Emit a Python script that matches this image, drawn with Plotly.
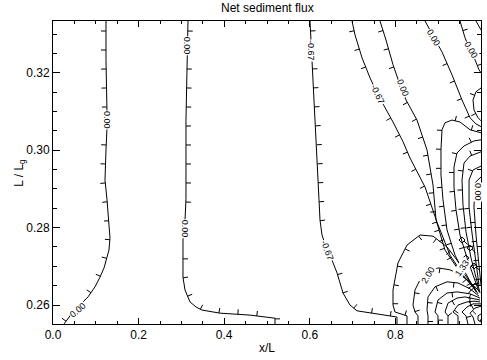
import math
import plotly.graph_objects as go

# ---------------- data ----------------
title = "Net sediment flux"
x_ticks = [0.0, 0.2, 0.4, 0.6, 0.8, 1.0]
y_ticks = [0.26, 0.28, 0.30, 0.32]
x_range = [0.0, 1.0]
y_range = [0.2551, 0.3334]

# contour lines: (x list, y list, downhill-tick side)
line_A_x = [0.1238,0.1238,0.1262,0.1262,0.1238,0.1215,0.1262,0.1308,0.1332,0.1308,0.1262,0.1192,0.1098,0.0981,0.0818,0.0631,0.0444,0.0257]
line_A_y = [0.3334,0.3234,0.3097,0.3058,0.3001,0.2923,0.2872,0.2820,0.2773,0.2742,0.2724,0.2696,0.2672,0.2647,0.2621,0.2600,0.2579,0.2551]
line_B_x = [0.3154,0.3131,0.3107,0.3107,0.3107,0.3084,0.3037,0.3037,0.3037,0.3084,0.3201,0.3341,0.3481,0.3902,0.4603,0.5187,0.5187]
line_B_y = [0.3334,0.3234,0.3078,0.2923,0.2872,0.2820,0.2768,0.2716,0.2672,0.2639,0.2608,0.2595,0.2587,0.2579,0.2574,0.2566,0.2551]
line_C_x = [0.6005,0.6028,0.6075,0.6121,0.6168,0.6192,0.6192,0.6215,0.6238,0.6285,0.6402,0.6519,0.6636,0.6776,0.6939,0.7103,0.8037,0.8037]
line_C_y = [0.3334,0.3285,0.3177,0.3091,0.3006,0.2944,0.2923,0.2872,0.2820,0.2781,0.2742,0.2716,0.2683,0.2631,0.2600,0.2585,0.2569,0.2551]
line_D_x = [0.6986,0.7056,0.7220,0.7407,0.7593,0.7944,0.8178,0.8341,0.8692,0.8972,0.9276,0.9626,0.9930]
line_D_y = [0.3334,0.3298,0.3239,0.3187,0.3143,0.3073,0.3022,0.2980,0.2905,0.2814,0.2729,0.2670,0.2639]
line_E_x = [0.7640,0.7780,0.7944,0.8107,0.8248,0.8505,0.8738,0.8879,0.8949,0.9159,0.9509,0.9907]
line_E_y = [0.3334,0.3285,0.3221,0.3169,0.3130,0.3078,0.3001,0.2910,0.2820,0.2742,0.2685,0.2634]
line_F_x = [0.8692,0.8902,0.9089,0.9322,0.9556,0.9743,0.9883,1.0000]
line_F_y = [0.3334,0.3291,0.3254,0.3195,0.3130,0.3084,0.3068,0.3061]
line_G_x = [0.9509,0.9626,0.9743,0.9860,0.9953,1.0000]
line_G_y = [0.3334,0.3291,0.3259,0.3234,0.3208,0.3200]
line_H_x = [0.9883,1.0000]
line_H_y = [0.3334,0.3311]
line_S_x = [1.0000,0.9883,0.9813,0.9836,0.9930,1.0000]
line_S_y = [0.3161,0.3151,0.3130,0.3104,0.3084,0.3076]
line_U1_x = [1.0000,0.9743,0.9509,0.9322,0.9159,0.9089,0.9065,0.9065,0.9112,0.9206,0.9393,0.9626,0.9883]
line_U1_y = [0.3045,0.3053,0.3073,0.3078,0.3071,0.3053,0.3001,0.2936,0.2872,0.2794,0.2729,0.2678,0.2639]
line_U2_x = [1.0000,0.9836,0.9603,0.9439,0.9369,0.9369,0.9416,0.9509,0.9673,0.9836,0.9953]
line_U2_y = [0.3027,0.3024,0.3011,0.2993,0.2957,0.2905,0.2846,0.2781,0.2722,0.2670,0.2634]
line_U3_x = [1.0000,0.9743,0.9603,0.9556,0.9579,0.9650,0.9766,0.9907,0.9977]
line_U3_y = [0.2996,0.2985,0.2967,0.2923,0.2859,0.2789,0.2722,0.2660,0.2631]
line_U4_x = [1.0000,0.9813,0.9720,0.9720,0.9790,0.9883,0.9953]
line_U4_y = [0.2959,0.2949,0.2923,0.2853,0.2786,0.2716,0.2652]
line_U5_x = [1.0000,0.9860,0.9836,0.9883,0.9953,1.0000]
line_U5_y = [0.2931,0.2916,0.2853,0.2781,0.2703,0.2652]
line_B1_x = [0.9883,0.9626,0.9439,0.9206,0.8879,0.8575,0.8271,0.8061,0.7944,0.7944,0.7991,0.8271,0.8271]
line_B1_y = [0.2634,0.2685,0.2716,0.2750,0.2778,0.2781,0.2755,0.2709,0.2639,0.2600,0.2582,0.2572,0.2551]
line_B2_x = [0.9930,0.9743,0.9509,0.9276,0.8995,0.8762,0.8575,0.8458,0.8411,0.8458,0.8528,0.8528]
line_B2_y = [0.2629,0.2660,0.2678,0.2691,0.2696,0.2683,0.2665,0.2639,0.2600,0.2582,0.2572,0.2551]
line_B3_x = [0.9953,0.9743,0.9463,0.9206,0.8925,0.8762,0.8738,0.8762,0.8762]
line_B3_y = [0.2623,0.2642,0.2657,0.2660,0.2647,0.2621,0.2587,0.2572,0.2551]
line_B4_x = [0.9977,0.9743,0.9439,0.9206,0.8995,0.8925,0.8995,0.8995]
line_B4_y = [0.2618,0.2629,0.2634,0.2631,0.2613,0.2582,0.2572,0.2551]
line_B5_x = [0.9977,0.9790,0.9626,0.9439,0.9229,0.9159,0.9229,0.9229]
line_B5_y = [0.2613,0.2618,0.2621,0.2618,0.2605,0.2582,0.2572,0.2551]
line_B6_x = [0.9977,0.9836,0.9673,0.9463,0.9346,0.9463,0.9463]
line_B6_y = [0.2608,0.2610,0.2608,0.2600,0.2582,0.2572,0.2551]
line_B7_x = [1.0000,0.9813,0.9673,0.9556,0.9650,0.9696]
line_B7_y = [0.2603,0.2603,0.2595,0.2582,0.2572,0.2551]
line_B8_x = [1.0000,0.9860,0.9743,0.9813,0.9860]
line_B8_y = [0.2597,0.2592,0.2579,0.2569,0.2551]
line_B9_x = [1.0000,0.9930,0.9930,1.0000]
line_B9_y = [0.2577,0.2572,0.2561,0.2556]
# small closed contours in the noisy area near x/L = 1
loop_1_x = [0.9486,0.9556,0.9626,0.9556,0.9486]
loop_1_y = [0.2768,0.2776,0.2768,0.2760,0.2768]
loop_2_x = [0.9673,0.9743,0.9813,0.9743,0.9673]
loop_2_y = [0.2747,0.2755,0.2747,0.2740,0.2747]
loop_3_x = [0.9579,0.9650,0.9720,0.9650,0.9579]
loop_3_y = [0.2722,0.2729,0.2722,0.2714,0.2722]
loop_4_x = [0.9766,0.9836,0.9907,0.9836,0.9766]
loop_4_y = [0.2701,0.2709,0.2701,0.2693,0.2701]

contour_lines = [
    (line_A_x, line_A_y, 1), (line_B_x, line_B_y, -1), (line_C_x, line_C_y, -1),
    (line_D_x, line_D_y, 1), (line_E_x, line_E_y, 1), (line_F_x, line_F_y, 1),
    (line_G_x, line_G_y, -1), (line_H_x, line_H_y, -1), (line_S_x, line_S_y, 1),
    (line_U1_x, line_U1_y, 1), (line_U2_x, line_U2_y, 1), (line_U3_x, line_U3_y, 1),
    (line_U4_x, line_U4_y, 1), (line_U5_x, line_U5_y, 1),
    (line_B1_x, line_B1_y, -1), (line_B2_x, line_B2_y, -1), (line_B3_x, line_B3_y, -1),
    (line_B4_x, line_B4_y, -1), (line_B5_x, line_B5_y, -1), (line_B6_x, line_B6_y, -1),
    (line_B7_x, line_B7_y, -1), (line_B8_x, line_B8_y, -1), (line_B9_x, line_B9_y, -1),
    (loop_1_x, loop_1_y, -1), (loop_2_x, loop_2_y, -1), (loop_3_x, loop_3_y, -1),
    (loop_4_x, loop_4_y, -1),
]

# contour labels: text, x, y, angle
label_text = ["0.00", "0.00", "0.00", "0.00", "-0.67", "-0.67", "-0.67", "0.00", "0.00", "0.00", "2.00", "1.33", "0.00"]
label_x = [0.1262, 0.0584, 0.3131, 0.3084, 0.6028, 0.6402, 0.7593, 0.8178, 0.8902, 0.9766, 0.8762, 0.9556, 0.9930]
label_y = [0.3078, 0.2587, 0.3270, 0.2797, 0.3259, 0.2742, 0.3143, 0.3161, 0.3291, 0.3259, 0.2678, 0.2696, 0.2892]
label_angle = [90, -40, 90, 90, 90, 70, 65, 68, 60, 60, -60, -55, 90]

# ---------------- layout geometry ----------------
W, H = 487, 360
ML, MR, MT, MB = 53, 6, 21, 36
PW, PH = W - ML - MR, H - MT - MB


def to_px(x, y):
    return (ML + (x - x_range[0]) / (x_range[1] - x_range[0]) * PW,
            MT + (y_range[1] - y) / (y_range[1] - y_range[0]) * PH)


def to_data(px, py):
    return (x_range[0] + (px - ML) / PW * (x_range[1] - x_range[0]),
            y_range[1] - (py - MT) / PH * (y_range[1] - y_range[0]))


label_px = [to_px(x, y) for x, y in zip(label_x, label_y)]


def downhill_ticks(xs, ys, side, spacing=19.0, length=5.0, offset=10.0):
    pts = [to_px(x, y) for x, y in zip(xs, ys)]
    tx, ty = [], []
    nxt = offset
    acc = 0.0
    for (x0, y0), (x1, y1) in zip(pts[:-1], pts[1:]):
        seg = math.hypot(x1 - x0, y1 - y0)
        if seg == 0:
            continue
        dx, dy = (x1 - x0) / seg, (y1 - y0) / seg
        while nxt <= acc + seg:
            t = nxt - acc
            px, py = x0 + dx * t, y0 + dy * t
            near = any(math.hypot(px - lx, py - ly) < 12 for lx, ly in label_px)
            if not near:
                ex, ey = px + (-dy) * side * length, py + dx * side * length
                a = to_data(px, py)
                b = to_data(ex, ey)
                tx += [a[0], b[0], None]
                ty += [a[1], b[1], None]
            nxt += spacing
        acc += seg
    return tx, ty


cx, cy, kx, ky = [], [], [], []
for xs, ys, side in contour_lines:
    cx += list(xs) + [None]
    cy += list(ys) + [None]
    a, b = downhill_ticks(xs, ys, side)
    kx += a
    ky += b

fig = go.Figure()
fig.add_trace(go.Scatter(x=cx, y=cy, mode="lines", line=dict(color="black", width=1),
                         hoverinfo="skip", showlegend=False))
fig.add_trace(go.Scatter(x=kx, y=ky, mode="lines", line=dict(color="black", width=1),
                         hoverinfo="skip", showlegend=False))

for t, x, y, a in zip(label_text, label_x, label_y, label_angle):
    fig.add_annotation(x=x, y=y, text=t, textangle=a, showarrow=False,
                       font=dict(family="Liberation Sans", size=9, color="black"),
                       bgcolor="white", borderpad=0)

font = dict(family="Liberation Sans", size=12, color="black")
fig.add_annotation(xref="paper", yref="paper", x=0.5, y=1.0, yshift=4, yanchor="bottom",
                   text=title, showarrow=False, font=font)
fig.add_annotation(xref="paper", yref="paper", x=0.5, y=0.0, yshift=-15, yanchor="top",
                   text="x/L", showarrow=False, font=font)
fig.add_annotation(xref="paper", yref="paper", x=-0.102, y=0.5, textangle=-90,
                   text="L / L<sub>g</sub>", showarrow=False, font=font)

fig.update_xaxes(range=x_range, tickvals=x_ticks, tickformat=".1f", ticks="inside",
                 ticklen=6, tickcolor="black", showline=True, linecolor="black",
                 linewidth=1, mirror="allticks", showgrid=False, zeroline=False,
                 minor=dict(ticks="inside", ticklen=3, dtick=0.05, tickcolor="black", showgrid=False),
                 tickfont=font)
fig.update_yaxes(range=y_range, tickvals=y_ticks, tickformat=".2f", ticks="inside",
                 ticklen=7, tickcolor="black", showline=True, linecolor="black",
                 linewidth=1, mirror="allticks", showgrid=False, zeroline=False,
                 minor=dict(ticks="inside", ticklen=4, dtick=0.005, tick0=0.26, tickcolor="black", showgrid=False),
                 tickfont=font)
fig.update_layout(width=W, height=H, margin=dict(l=ML, r=MR, t=MT, b=MB),
                  plot_bgcolor="white", paper_bgcolor="white", showlegend=False)
fig.write_html("out.html")
